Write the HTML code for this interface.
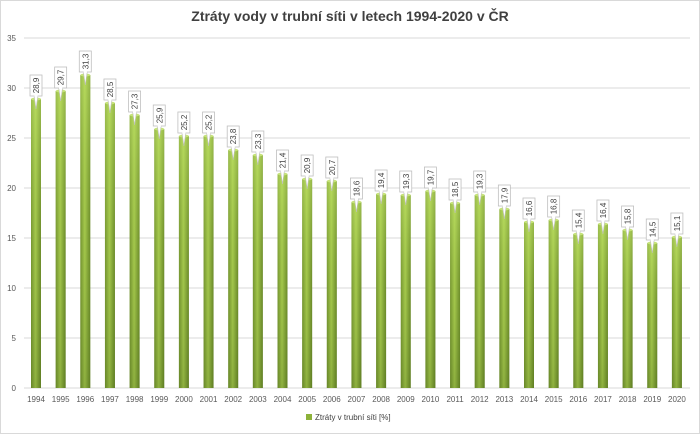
<!DOCTYPE html>
<html><head><meta charset="utf-8"><style>
body{margin:0;background:#fff}
svg{display:block;font-family:"Liberation Sans",sans-serif}
</style></head><body>
<svg id="c" width="700" height="434">
<defs>
<linearGradient id="g" x1="0" x2="1" y1="0" y2="0">
<stop offset="0" stop-color="#6b8a2c"/><stop offset="0.45" stop-color="#a6c94e"/><stop offset="1" stop-color="#5f7d24"/>
</linearGradient>
<linearGradient id="v" x1="0" x2="0" y1="0" y2="1">
<stop offset="0" stop-color="#c4e86a" stop-opacity="0.55"/><stop offset="0.5" stop-color="#9bc243" stop-opacity="0.2"/><stop offset="1" stop-color="#5a7a20" stop-opacity="0.3"/>
</linearGradient>
</defs>
<rect x="0.5" y="0.5" width="699" height="433" fill="#fff" stroke="#d9d9d9"/>
<text x="350" y="21" text-anchor="middle" font-size="14" font-weight="bold" fill="#404040">Ztráty vody v trubní síti v letech 1994-2020 v ČR</text>
<g id="grid"></g><g id="bars"></g>
<g>
<rect x="306" y="414" width="6" height="6" fill="#8db23a"/>
<text x="315" y="420" font-size="8" fill="#404040">Ztráty v trubní síti [%]</text>
</g>
</svg>
<script>
const years=["1994","1995","1996","1997","1998","1999","2000","2001","2002","2003","2004","2005","2006","2007","2008","2009","2010","2011","2012","2013","2014","2015","2016","2017","2018","2019","2020"];
const values=[28.9,29.7,31.3,28.5,27.3,25.9,25.2,25.2,23.8,23.3,21.4,20.9,20.7,18.6,19.4,19.3,19.7,18.5,19.3,17.9,16.6,16.8,15.4,16.4,15.8,14.5,15.1];
const yTicks=[0,5,10,15,20,25,30,35];
const NS="http://www.w3.org/2000/svg";
const y=v=>388-v*10;
const x=i=>36+i*24.65;
function mk(t,a,p){const e=document.createElementNS(NS,t);for(const k in a)e.setAttribute(k,a[k]);p.appendChild(e);return e;}
const grid=document.getElementById('grid'),bars=document.getElementById('bars');
yTicks.forEach(t=>{
 const l=mk('line',{x1:24,x2:690,y1:y(t),y2:y(t),stroke:'#d9d9d9'},grid);
 
 
 const tx=mk('text',{x:16,y:y(t)+3,'text-anchor':'end','font-size':8,fill:'#595959'},grid);
 tx.textContent=t;
 
 
});
years.forEach((yr,i)=>{
 const cx=x(i),v=values[i],top=y(v);
 const g=mk('g',{},bars);
 
 
 mk('rect',{x:cx-5,y:top,width:10,height:388-top,fill:'url(#g)'},g);
 mk('rect',{x:cx-5,y:top,width:10,height:388-top,fill:'url(#v)'},g);
 mk('ellipse',{cx:cx,cy:top,rx:5,ry:1.5,fill:'#c6e37a'},g);
 mk('polygon',{points:`${cx-2},${top-4} ${cx+2},${top-4} ${cx},${top+10}`,fill:'#fff',stroke:'#bfbfbf','stroke-width':0.6},g);
 mk('rect',{x:cx-6,y:top-24,width:12,height:21,fill:'#fff',stroke:'#bfbfbf','stroke-width':0.8},g);
 mk('rect',{x:cx-1.6,y:top-4,width:3.2,height:2,fill:'#fff'},g);
 const lb=mk('text',{x:cx+3,y:top-13.5,'text-anchor':'middle','font-size':8,fill:'#404040',transform:`rotate(-90 ${cx+3} ${top-13.5})`},g);
 lb.textContent=String(v).replace('.',',');
 
 
 const xl=mk('text',{x:cx,y:402,'text-anchor':'middle','font-size':8,fill:'#595959'},g);
 xl.textContent=yr;
 
 
});
</script>
</body></html>
